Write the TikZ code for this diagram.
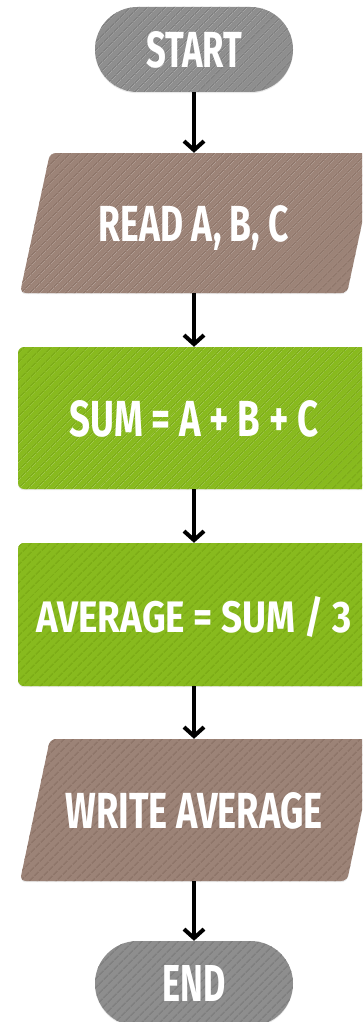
\documentclass[tikz,border=0pt]{standalone}
\usepackage{fontspec}
\setmainfont{Fira Sans}
\usetikzlibrary{arrows.meta,patterns.meta,shadows}
\definecolor{termgray}{HTML}{8E8E8E}
\definecolor{termstripe}{HTML}{808080}
\definecolor{iobrown}{HTML}{9C8377}
\definecolor{iostripe}{HTML}{8F766A}
\definecolor{procgreen}{HTML}{88BA1E}
\definecolor{procstripe}{HTML}{7DAD17}
\newcommand{\lbl}[2]{\resizebox{#1}{36pt}{\raisebox{0pt}[\height][0pt]{\bfseries #2}}}
\tikzset{
  txt/.style={text=white, inner sep=0pt, anchor=center},
  stripes/.style={pattern={Lines[angle=45,distance=6.5pt,line width=1.6pt]}, pattern color=#1},
  shadowed/.style={drop shadow={opacity=0.18, shadow xshift=0pt, shadow yshift=-1.2pt}},
  termshape/.style={shadowed, preaction={fill=termgray}, stripes=termstripe, rounded corners=42.5pt},
  ioshape/.style={shadowed, preaction={fill=iobrown}, stripes=iostripe, rounded corners=6pt},
  procshape/.style={shadowed, preaction={fill=procgreen}, stripes=procstripe, rounded corners=6pt},
  flow/.style={line width=4pt, -{Straight Barb[length=9pt,width=20pt]}}
}
\begin{document}
\begin{tikzpicture}[x=1pt,y=-1pt]
\useasboundingbox (0,0) rectangle (362,1022);
\begin{scope}
\clip (0,0) rectangle (362,1022);
\path[termshape] (95,7) rectangle (293,92);
\path[ioshape] (50,153) -- (377,153) -- (347,293) -- (20,293) -- cycle;
\path[procshape] (18,347) rectangle (370,489);
\path[procshape] (18,543) rectangle (370,686);
\path[ioshape] (50,739) -- (377,739) -- (347,881) -- (20,881) -- cycle;
\path[termshape] (95,941) rectangle (293,1026);
\end{scope}
\node[txt, minimum height=85pt] (start) at (194,49.5) {\lbl{96pt}{START}};
\node[txt, minimum height=140pt] (read) at (194,223) {\lbl{190pt}{READ A, B, C}};
\node[txt, minimum height=142pt] (sum) at (194,418) {\lbl{249pt}{SUM = A + B + C}};
\node[txt, minimum height=143pt] (avg) at (194,614.5) {\lbl{315pt}{AVERAGE = SUM / 3}};
\node[txt, minimum height=142pt] (write) at (194,810) {\lbl{257pt}{WRITE AVERAGE}};
\node[txt, minimum height=85pt] (end) at (194,983.5) {\lbl{63pt}{END}};
\draw[flow] (start.south) -- (read.north);
\draw[flow] (read.south) -- (sum.north);
\draw[flow] (sum.south) -- (avg.north);
\draw[flow] (avg.south) -- (write.north);
\draw[flow] (write.south) -- (end.north);
\end{tikzpicture}
\end{document}
